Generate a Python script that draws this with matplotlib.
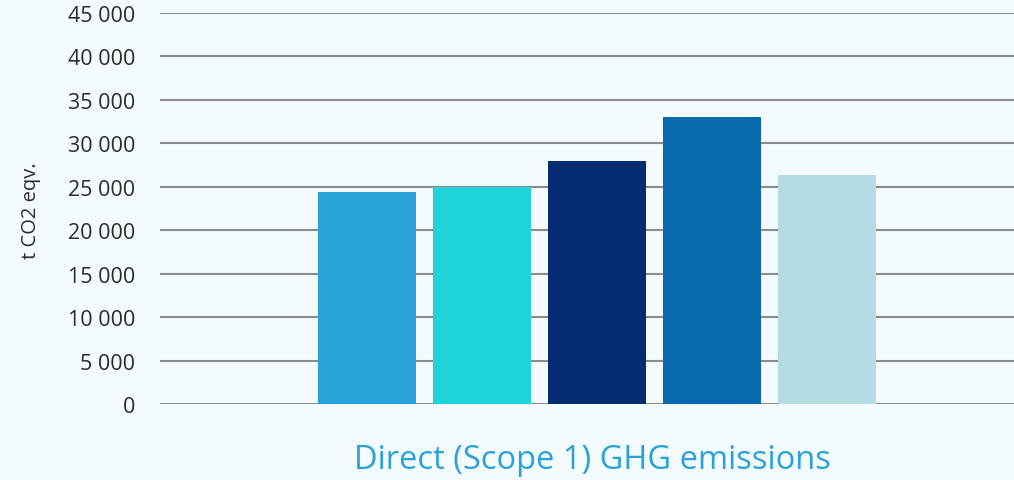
import matplotlib
matplotlib.use("Agg")
import matplotlib.pyplot as plt

category = "Direct (Scope 1) GHG emissions"
series = ["S1", "S2", "S3", "S4", "S5"]
values = [24400, 25000, 28000, 33000, 26350]
colors = ["#2aa2d9", "#1fd4d8", "#052b70", "#0b69ad", "#b5dbe5"]
yticks = [0, 5000, 10000, 15000, 20000, 25000, 30000, 35000, 40000, 45000]
ytick_labels = ["0", "5 000", "10 000", "15 000", "20 000", "25 000",
                "30 000", "35 000", "40 000", "45 000"]

bg = "#f3fbfe"
fig = plt.figure(figsize=(10.14, 4.81), dpi=100, facecolor=bg)
ax = fig.add_axes([0.158, 0.158, 0.842, 0.813], facecolor=bg)

offsets = [-2, -1, 0, 1, 2]
for off, v, c, s in zip(offsets, values, colors, series):
    ax.bar(off, v, width=0.852, color=c, zorder=3, label=s)

ax.set_xlim(-3.80, 3.63)
ax.set_ylim(0, 45000)
ax.set_yticks(yticks)
ax.set_yticklabels(ytick_labels, fontsize=15.5, color="#2b2b2b", family="Open Sans")
ax.set_xticks([])
ax.tick_params(axis="y", length=0, pad=18)
for sp in ax.spines.values():
    sp.set_visible(False)
ax.yaxis.grid(True, color="#8c8c8c", linewidth=1.5, zorder=0)
ax.set_axisbelow(True)

fig.text(31 / 1014, 1 - 211 / 481, "t CO2 eqv.", rotation=90, ha="center", va="center",
         fontsize=14.5, color="#2b2b2b", family="Open Sans")

fig.text(592 / 1014, 1 - 461 / 481, category, ha="center", va="center", fontsize=23.5,
         color="#2aa2d9", family="Open Sans")

fig.savefig("out.png", dpi=100, facecolor=bg)
